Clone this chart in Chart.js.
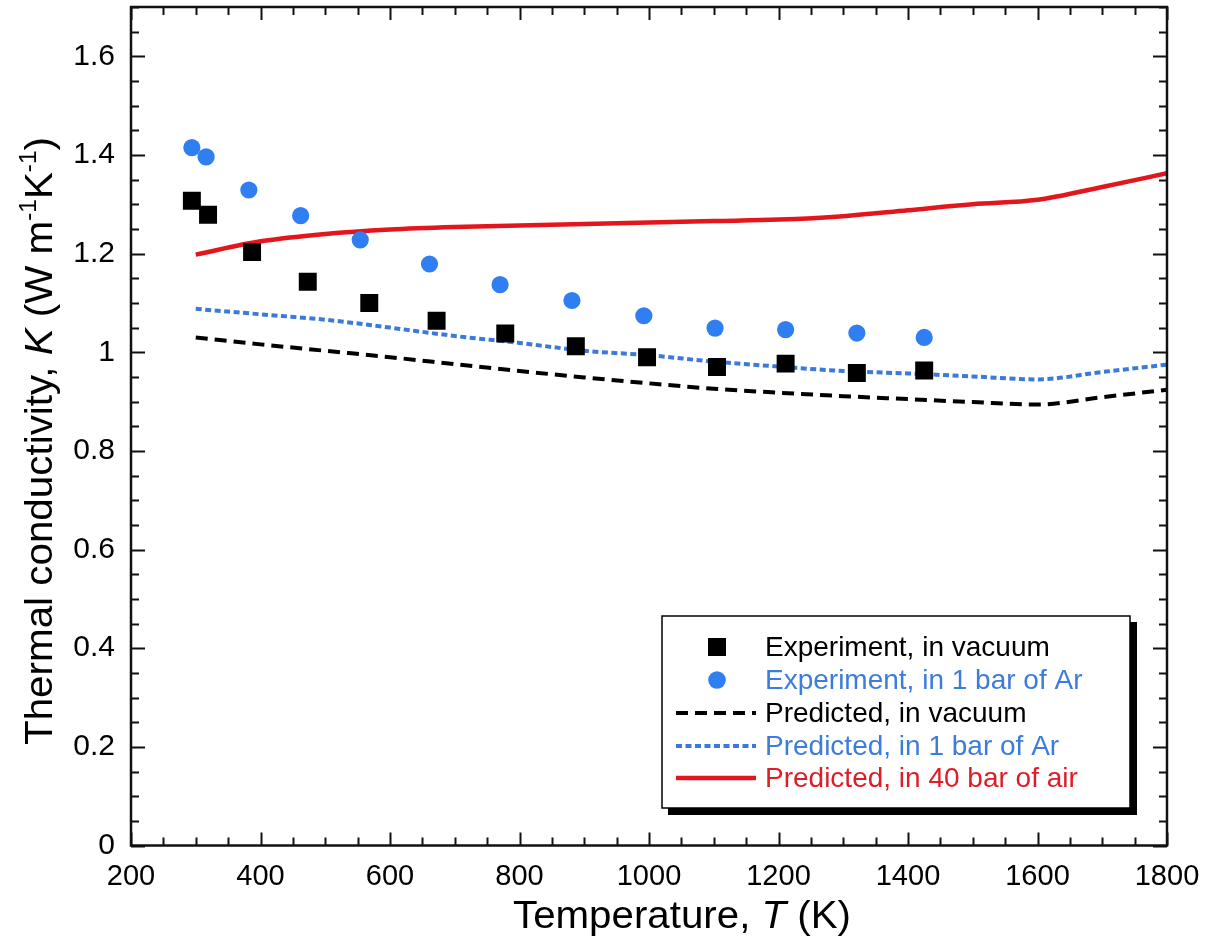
<!DOCTYPE html>
<html><head><meta charset="utf-8">
<script src="https://cdn.jsdelivr.net/npm/chart.js@4.4.1/dist/chart.umd.min.js"></script>
<style>html,body{margin:0;padding:0;background:#fff;}#wrap{width:1212px;height:944px;position:relative;}</style>
</head><body><div id="wrap"><canvas id="c" width="1212" height="944"></canvas></div>
<script>
// ---- data ----
const expVacT  = [294, 319, 387, 473, 568, 672, 778, 887, 997, 1105, 1211, 1321, 1425];
const expVacK  = [1.307, 1.279, 1.203, 1.143, 1.100, 1.064, 1.038, 1.012, 0.990, 0.970, 0.977, 0.958, 0.963];
const expArT   = [294, 316, 382, 462, 554, 661, 770, 881, 992, 1102, 1211, 1321, 1425];
const expArK   = [1.415, 1.396, 1.329, 1.277, 1.228, 1.179, 1.137, 1.105, 1.074, 1.049, 1.046, 1.039, 1.030];
const predT    = [300, 400, 500, 600, 700, 800, 900, 1000, 1100, 1200, 1300, 1400, 1500, 1600, 1700, 1800];
const predVacK = [1.030, 1.016, 1.003, 0.990, 0.976, 0.962, 0.949, 0.937, 0.926, 0.918, 0.911, 0.905, 0.899, 0.894, 0.909, 0.924];
const predArK  = [1.088, 1.077, 1.066, 1.050, 1.033, 1.019, 1.003, 0.994, 0.981, 0.971, 0.962, 0.957, 0.951, 0.945, 0.960, 0.975];
const predAirK = [1.198, 1.225, 1.240, 1.249, 1.254, 1.257, 1.260, 1.263, 1.266, 1.269, 1.276, 1.288, 1.300, 1.309, 1.335, 1.363];
const xTickValues = [200, 400, 600, 800, 1000, 1200, 1400, 1600, 1800];
const yTickValues = [0, 0.2, 0.4, 0.6, 0.8, 1, 1.2, 1.4, 1.6];
const seriesLabels = ['Experiment, in vacuum', 'Experiment, in 1 bar of Ar', 'Predicted, in vacuum', 'Predicted, in 1 bar of Ar', 'Predicted, in 40 bar of air'];

const FAM = "'Liberation Sans', Arial, Helvetica, sans-serif";
const BLUE = '#2f7ef2', BLUE_LINE = '#3b7ad8', RED = '#e3161e';
const pts = (xs, ys) => xs.map((x, i) => ({x: x, y: ys[i]}));

function drawRich(ctx, segs, size, cx, cy, rot, targetW, color) {
  ctx.save();
  ctx.fillStyle = color;
  const fonts = segs.map(s => (s.i ? 'italic ' : '') + (s.sup ? Math.round(size * 0.6) : size) + 'px ' + FAM);
  let widths = segs.map((s, k) => { ctx.font = fonts[k]; return ctx.measureText(s.t).width; });
  const total = widths.reduce((a, b) => a + b, 0);
  ctx.translate(cx, cy);
  if (rot) ctx.rotate(rot);
  const sx = targetW ? targetW / total : 1;
  ctx.scale(sx, 1);
  ctx.textBaseline = 'alphabetic';
  ctx.textAlign = 'left';
  let x = -total / 2;
  segs.forEach((s, k) => {
    ctx.font = fonts[k];
    ctx.fillText(s.t, x, s.sup ? -size * 0.42 : 0);
    x += widths[k];
  });
  ctx.restore();
}

const decor = {
  id: 'decor',
  afterDraw(chart) {
    const ctx = chart.ctx, a = chart.chartArea;
    const xs = chart.scales.x, ys = chart.scales.y;
    ctx.save();
    ctx.strokeStyle = '#111';
    ctx.lineWidth = 2;
    for (let v = 200; v <= 1800; v += 50) {
      const px = Math.round(xs.getPixelForValue(v)) + 0.5;
      const L = (v % 200 === 0) ? 13 : 8;
      ctx.beginPath();
      ctx.moveTo(px, a.bottom); ctx.lineTo(px, a.bottom - L);
      ctx.moveTo(px, a.top); ctx.lineTo(px, a.top + L);
      ctx.stroke();
    }
    for (let k = 0; k <= 34; k++) {
      const v = k * 0.05;
      const py = Math.round(ys.getPixelForValue(v)) + 0.5;
      const L = (k % 4 === 0) ? 14 : 8;
      ctx.beginPath();
      ctx.moveTo(a.left, py); ctx.lineTo(a.left + L, py);
      ctx.moveTo(a.right, py); ctx.lineTo(a.right - L, py);
      ctx.stroke();
    }
    ctx.lineWidth = 2.5;
    ctx.strokeRect(a.left, a.top, a.right - a.left, a.bottom - a.top);
    ctx.restore();

    drawRich(ctx, [{t: 'Temperature, '}, {t: 'T', i: true}, {t: ' (K)'}], 39, 682, 928, 0, 338, '#000');
    drawRich(ctx, [{t: 'Thermal conductivity, '}, {t: 'K', i: true}, {t: ' (W m'}, {t: '-1', sup: true}, {t: 'K'}, {t: '-1', sup: true}, {t: ')'}],
      38, 52, 441, -Math.PI / 2, 608, '#000');

    const bx = 662, by = 616, bw = 468, bh = 192;
    ctx.save();
    ctx.fillStyle = '#000';
    ctx.fillRect(bx + 6, by + 6, bw + 1, bh + 1);
    ctx.fillStyle = '#fff';
    ctx.fillRect(bx, by, bw, bh);
    ctx.strokeStyle = '#000';
    ctx.lineWidth = 1.5;
    ctx.strokeRect(bx, by, bw, bh);
    const rows = [647, 680, 713, 746, 778];
    const txtColors = ['#000', '#3c7cdc', '#000', '#3c7cdc', '#dc1e28'];
    chart.data.datasets.forEach((ds, i) => {
      const y = rows[i];
      if (!ds.showLine) {
        ctx.fillStyle = ds.backgroundColor;
        if (ds.pointStyle === 'rect') ctx.fillRect(717 - 9, y - 9, 18, 18);
        else { ctx.beginPath(); ctx.arc(717, y, 8.8, 0, Math.PI * 2); ctx.fill(); }
      } else {
        ctx.strokeStyle = ds.borderColor;
        ctx.lineWidth = ds.borderWidth;
        ctx.setLineDash(ds.borderDash || []);
        ctx.beginPath(); ctx.moveTo(676, y); ctx.lineTo(756, y); ctx.stroke();
        ctx.setLineDash([]);
      }
      ctx.fillStyle = txtColors[i];
      ctx.font = '28px ' + FAM;
      ctx.textBaseline = 'middle';
      ctx.textAlign = 'left';
      ctx.fillText(ds.label, 765, y + 1);
    });
    ctx.restore();
  }
};

new Chart(document.getElementById('c'), {
  type: 'scatter',
  data: {
    datasets: [
      {label: seriesLabels[0], data: pts(expVacT, expVacK), showLine: false, pointStyle: 'rect', pointRadius: 12.7, backgroundColor: '#000', borderColor: '#000', borderWidth: 0},
      {label: seriesLabels[1], data: pts(expArT, expArK), showLine: false, pointStyle: 'circle', pointRadius: 8.6, backgroundColor: BLUE, borderColor: BLUE, borderWidth: 0},
      {label: seriesLabels[2], data: pts(predT, predVacK), showLine: true, pointRadius: 0, borderColor: '#000', backgroundColor: '#000', borderWidth: 4, borderDash: [12, 7], cubicInterpolationMode: 'monotone'},
      {label: seriesLabels[3], data: pts(predT, predArK), showLine: true, pointRadius: 0, borderColor: BLUE_LINE, backgroundColor: BLUE_LINE, borderWidth: 4, borderDash: [6, 3.5], cubicInterpolationMode: 'monotone'},
      {label: seriesLabels[4], data: pts(predT, predAirK), showLine: true, pointRadius: 0, borderColor: RED, backgroundColor: RED, borderWidth: 4.5, cubicInterpolationMode: 'monotone'}
    ]
  },
  options: {
    responsive: false,
    animation: false,
    devicePixelRatio: 1,
    layout: {autoPadding: false, padding: {left: 0, top: 7, right: 45, bottom: 0}},
    plugins: {legend: {display: false}, tooltip: {enabled: false}},
    scales: {
      x: {
        type: 'linear', min: 200, max: 1800,
        afterBuildTicks: s => { s.ticks = xTickValues.map(v => ({value: v})); },
        afterFit: s => { s.height = 98.5; s.paddingLeft = 0; s.paddingRight = 0; },
        grid: {display: false, drawTicks: false},
        border: {display: false},
        ticks: {color: '#000', padding: 14, font: {family: FAM, size: 29}, maxRotation: 0, autoSkip: false, callback: v => String(v)}
      },
      y: {
        type: 'linear', min: 0, max: 1.7,
        afterBuildTicks: s => { s.ticks = yTickValues.map(v => ({value: v})); },
        afterFit: s => { s.width = 131; s.paddingTop = 0; s.paddingBottom = 0; },
        grid: {display: false, drawTicks: false},
        border: {display: false},
        ticks: {color: '#000', padding: 16, font: {family: FAM, size: 30}, autoSkip: false, callback: v => String(Math.round(v * 10) / 10)}
      }
    }
  },
  plugins: [decor]
});
</script>
</body></html>
